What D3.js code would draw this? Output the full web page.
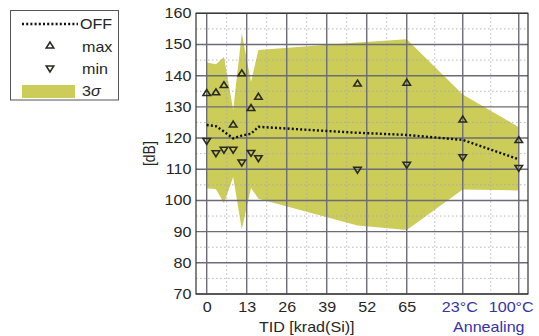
<!DOCTYPE html>
<html>
<head>
<meta charset="utf-8">
<script src="https://cdn.jsdelivr.net/npm/d3@7"></script>
<style>
  html, body { margin: 0; padding: 0; background: #fff; }
  svg { display: block; font-family: "Liberation Sans", Arial, sans-serif; }
</style>
</head>
<body>
<svg id="chart" width="539" height="336"></svg>
<script>
// Dose steps (krad(Si)); the last two are the 23°C and 100°C annealing steps
const tid = [0, 3, 5.6, 8.6, 11.4, 14.4, 16.8, 49, 65, 83.2, 101.4];
// Measured values in dB
const offValues = [124.2, 123.8, 122.1, 119.9, 120.8, 121.4, 123.6, 121.7, 121.0, 119.4, 113.2];
const maxValues = [134.3, 134.5, 136.8, 124.2, 140.6, 129.5, 133.1, 137.3, 137.6, 125.8, 119.2];
const minValues = [119.2, 115.3, 116.4, 116.4, 112.3, 115.4, 113.7, 110.0, 111.6, 114.0, 110.6];
// 3-sigma envelope
const sigmaUpper = [144.2, 143.7, 146.0, 129.0, 153.6, 138.0, 148.2, 150.6, 151.7, 134.0, 123.5];
const sigmaLower = [103.9, 103.6, 99.1, 107.5, 90.8, 104.0, 100.5, 92.0, 90.5, 103.5, 103.2];

// Axis ticks
const xTicks = [0, 13, 26, 39, 52, 65, 83.2, 101.4];
const xTickLabels = ["0", "13", "26", "39", "52", "65", "23°C", "100°C"];
const yTicks = [70, 80, 90, 100, 110, 120, 130, 140, 150, 160];

const STRETCH = 1.15;
const BAND = "#cccc58";
const BLUE = "#3434a8";
const INK = "#262626";

const svg = d3.select("#chart");
const plot = { left: 196, right: 528, top: 13.3, bottom: 294 };

const x = d3.scaleLinear().domain([-3.48, 104.4]).range([plot.left, plot.right]);
const y = d3.scaleLinear().domain([70, 160]).range([plot.bottom, plot.top]);

const rows = tid.map((t, i) => ({
  t, off: offValues[i], max: maxValues[i], min: minValues[i],
  hi: sigmaUpper[i], lo: sigmaLower[i]
}));

// plot background
svg.append("rect")
  .attr("x", plot.left).attr("y", plot.top)
  .attr("width", plot.right - plot.left).attr("height", plot.bottom - plot.top)
  .attr("fill", "#fff");

// 3-sigma band
svg.append("path")
  .datum(rows)
  .attr("fill", BAND)
  .attr("d", d3.area().x(d => x(d.t)).y0(d => y(d.lo)).y1(d => y(d.hi)));

// minor grid (midpoints between major ticks)
const xMinor = d3.pairs(xTicks).map(([a, b]) => (a + b) / 2);
const yMinor = d3.pairs(yTicks).map(([a, b]) => (a + b) / 2);
const grid = svg.append("g");
grid.selectAll(".vminor").data(xMinor).join("line")
  .attr("x1", d => x(d)).attr("x2", d => x(d))
  .attr("y1", plot.top).attr("y2", plot.bottom)
  .attr("stroke", "#a8a8a8").attr("stroke-width", 1)
  .attr("stroke-dasharray", "1.5,2.5").attr("opacity", 0.8);
grid.selectAll(".hminor").data(yMinor).join("line")
  .attr("y1", d => y(d)).attr("y2", d => y(d))
  .attr("x1", plot.left).attr("x2", plot.right)
  .attr("stroke", "#a8a8a8").attr("stroke-width", 1)
  .attr("stroke-dasharray", "1.5,2.5").attr("opacity", 0.8);

// major grid
grid.selectAll(".vmajor").data(xTicks).join("line")
  .attr("x1", d => x(d)).attr("x2", d => x(d))
  .attr("y1", plot.top).attr("y2", plot.bottom)
  .attr("stroke", "#6c6c78").attr("stroke-width", 1.4);
grid.selectAll(".hmajor").data(yTicks).join("line")
  .attr("y1", d => y(d)).attr("y2", d => y(d))
  .attr("x1", plot.left).attr("x2", plot.right)
  .attr("stroke", "#6c6c78").attr("stroke-width", 1.4);

// plot frame
svg.append("rect")
  .attr("x", plot.left).attr("y", plot.top)
  .attr("width", plot.right - plot.left).attr("height", plot.bottom - plot.top)
  .attr("fill", "none").attr("stroke", "#333").attr("stroke-width", 1.2);

// OFF dotted line
svg.append("path")
  .datum(rows)
  .attr("fill", "none")
  .attr("stroke", "#111")
  .attr("stroke-width", 2.4)
  .attr("stroke-dasharray", "2,2.2")
  .attr("d", d3.line().x(d => x(d.t)).y(d => y(d.off)));

// max / min markers
const tri = d3.symbol(d3.symbolTriangle, 20);
svg.append("g").selectAll("path").data(rows).join("path")
  .attr("d", tri)
  .attr("transform", d => `translate(${x(d.t)},${y(d.max)}) scale(1.1,1)`)
  .attr("fill", "none").attr("stroke", "#2a2a20").attr("stroke-width", 1.5);
svg.append("g").selectAll("path").data(rows).join("path")
  .attr("d", tri)
  .attr("transform", d => `translate(${x(d.t)},${y(d.min)}) scale(1.1,-1)`)
  .attr("fill", "none").attr("stroke", "#2a2a20").attr("stroke-width", 1.5);

// axes (labels only; grid draws the lines)
const yAxis = svg.append("g")
  .attr("transform", `translate(${plot.left},0)`)
  .call(d3.axisLeft(y).tickValues(yTicks).tickSize(0).tickPadding(4));
const xAxis = svg.append("g")
  .attr("transform", `translate(0,${plot.bottom})`)
  .call(d3.axisBottom(x).tickValues(xTicks)
    .tickFormat((d, i) => xTickLabels[i]).tickSize(0).tickPadding(8));
[yAxis, xAxis].forEach(a => {
  a.select(".domain").remove();
  a.selectAll("text")
    .attr("font-size", 14)
    .attr("font-family", "Liberation Sans, Arial, sans-serif")
    .attr("fill", INK)
    .attr("transform", `scale(${STRETCH},1)`);
});
// annealing labels are blue and sit a little left of their ticks
const annealShift = [0, 0, 0, 0, 0, 0, -3, -7];
xAxis.selectAll(".tick text")
  .attr("fill", (d, i) => i >= 6 ? BLUE : INK)
  .attr("dx", (d, i) => annealShift[i]);

function label(txt, px, py, color, anchor) {
  return svg.append("text")
    .attr("transform", `translate(${px},${py}) scale(${STRETCH},1)`)
    .attr("text-anchor", anchor || "middle")
    .attr("font-size", 14)
    .attr("fill", color)
    .text(txt);
}
label("TID [krad(Si)]", x(32.5), 332, INK);
label("Annealing", (x(83.2) + x(101.4)) / 2 - 2, 332, BLUE);

svg.append("text")
  .attr("transform", `translate(155,${(plot.top + plot.bottom) / 2}) rotate(-90) scale(1,${STRETCH})`)
  .attr("text-anchor", "middle")
  .attr("font-size", 14)
  .attr("fill", INK)
  .text("[dB]");

// legend
const lg = svg.append("g");
lg.append("rect")
  .attr("x", 10.5).attr("y", 10.5).attr("width", 108).attr("height", 89.5)
  .attr("fill", "#fff").attr("stroke", "#555").attr("stroke-width", 1);
lg.append("line")
  .attr("x1", 22).attr("x2", 78).attr("y1", 24).attr("y2", 24)
  .attr("stroke", "#111").attr("stroke-width", 2.4).attr("stroke-dasharray", "2,2.2");
lg.append("path").attr("d", tri)
  .attr("transform", "translate(50,46) scale(1.1,1)")
  .attr("fill", "none").attr("stroke", "#2a2a20").attr("stroke-width", 1.5);
lg.append("path").attr("d", tri)
  .attr("transform", "translate(50,68) scale(1.1,-1)")
  .attr("fill", "none").attr("stroke", "#2a2a20").attr("stroke-width", 1.5);
lg.append("rect")
  .attr("x", 22).attr("y", 85).attr("width", 53).attr("height", 13)
  .attr("fill", BAND);
label("OFF", 80, 29, INK, "start");
label("max", 82, 52, INK, "start");
label("min", 82, 74, INK, "start");
const sig = label("3", 82, 96, INK, "start");
sig.append("tspan").attr("font-style", "italic").text("σ");
</script>
</body>
</html>
